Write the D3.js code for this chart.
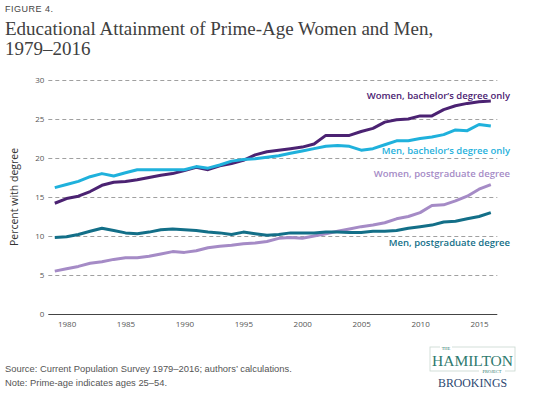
<!DOCTYPE html>
<html>
<head>
<meta charset="utf-8">
<script src="https://cdn.jsdelivr.net/npm/d3@7.9.0/dist/d3.min.js"></script>
<style>
  body { margin: 0; background: #fff; }
  svg { display: block; }
</style>
</head>
<body>
<svg id="chart" width="535" height="396"></svg>
<script>
// years 1979..2016
const years = d3.range(1979, 2017);

// values (percent with degree)
const womenBachelor = [14.2, 14.8, 15.1, 15.7, 16.5, 16.9, 17.0, 17.2, 17.5, 17.8, 18.0, 18.4, 18.8, 18.5, 19.0, 19.3, 19.7, 20.4,
  20.8, 21.0, 21.2, 21.4, 21.8, 22.9, 22.9, 22.9, 23.4, 23.8, 24.6, 24.9, 25.0, 25.4, 25.4, 26.2, 26.7, 27.0, 27.2, 27.3];
const menBachelor = [16.2, 16.6, 17.0, 17.6, 18.0, 17.7, 18.1, 18.5, 18.5, 18.5, 18.5, 18.5, 18.9, 18.7, 19.1, 19.6, 19.8, 19.9,
  20.1, 20.3, 20.6, 20.9, 21.2, 21.5, 21.6, 21.5, 21.0, 21.2, 21.7, 22.2, 22.2, 22.5, 22.7, 23.0, 23.6, 23.5, 24.3, 24.1];
const womenPostgrad = [5.5, 5.8, 6.1, 6.5, 6.7, 7.0, 7.2, 7.2, 7.4, 7.7, 8.0, 7.9, 8.1, 8.5, 8.7, 8.8, 9.0, 9.1,
  9.3, 9.7, 9.8, 9.7, 10.0, 10.3, 10.6, 10.9, 11.2, 11.4, 11.7, 12.2, 12.5, 13.0, 13.9, 14.0, 14.5, 15.1, 16.0, 16.6];
const menPostgrad = [9.8, 9.9, 10.2, 10.6, 11.0, 10.7, 10.4, 10.3, 10.5, 10.8, 10.9, 10.8, 10.7, 10.5, 10.4, 10.2, 10.5, 10.3,
  10.1, 10.2, 10.4, 10.4, 10.4, 10.5, 10.5, 10.45, 10.45, 10.6, 10.6, 10.7, 11.0, 11.2, 11.4, 11.8, 11.9, 12.2, 12.5, 13.0];

const yTicks = [0, 5, 10, 15, 20, 25, 30];
const xTicks = [1980, 1985, 1990, 1995, 2000, 2005, 2010, 2015];

const series = [
  { name: "Women, bachelor\u2019s degree only", values: womenBachelor, color: "#4b2272" },
  { name: "Men, bachelor\u2019s degree only", values: menBachelor, color: "#1fb1dc" },
  { name: "Women, postgraduate degree", values: womenPostgrad, color: "#a58bc6" },
  { name: "Men, postgraduate degree", values: menPostgrad, color: "#136f88" }
];

const svg = d3.select('#chart');

const x = d3.scaleLinear().domain([1978.45, 2016.55]).range([48.3, 497.3]);
const y = d3.scaleLinear().domain([0, 30]).range([314, 80]);

// header
svg.append('text')
  .attr('x', 5).attr('y', 12)
  .attr('font-family', 'Liberation Sans, Arial, sans-serif')
  .attr('font-size', 9).attr('letter-spacing', 0.5)
  .attr('fill', '#444')
  .text('FIGURE 4.');

const title = svg.append('text')
  .attr('font-family', 'Liberation Serif, Times New Roman, serif')
  .attr('font-size', 19).attr('fill', '#404040');
title.append('tspan').attr('x', 5).attr('y', 35).text('Educational Attainment of Prime-Age Women and Men,');
title.append('tspan').attr('x', 5).attr('y', 55).text('1979\u20132016');

// grid + y axis
const yAxis = svg.append('g')
  .attr('transform', `translate(${x.range()[0]},0)`)
  .call(d3.axisLeft(y).tickValues(yTicks).tickSize(-(x.range()[1] - x.range()[0])).tickPadding(4));
yAxis.select('.domain').remove();
yAxis.selectAll('.tick line')
  .attr('stroke', d => d === 0 ? '#444' : '#888')
  .attr('stroke-width', d => d === 0 ? 1.2 : 0.8)
  .attr('stroke-dasharray', d => d === 0 ? null : '4,3');
yAxis.selectAll('.tick text')
  .attr('font-family', 'Open Sans, sans-serif')
  .attr('font-size', 8).attr('fill', '#555');

// x axis labels
const xAxis = svg.append('g')
  .attr('transform', `translate(0,${y(0)})`)
  .call(d3.axisBottom(x).tickValues(xTicks).tickFormat(d3.format('d')).tickSize(0).tickPadding(7));
xAxis.select('.domain').remove();
xAxis.selectAll('.tick text')
  .attr('font-family', 'Open Sans, sans-serif')
  .attr('font-size', 8).attr('fill', '#555');

// y title
svg.append('text')
  .attr('transform', 'translate(18,197) rotate(-90)')
  .attr('text-anchor', 'middle')
  .attr('font-family', 'Open Sans, sans-serif')
  .attr('font-size', 10.5).attr('fill', '#333')
  .text('Percent with degree');

// lines
const line = d3.line()
  .x((d, i) => x(years[i]))
  .y(d => y(d));

series.forEach(s => {
  svg.append('path')
    .datum(s.values)
    .attr('d', line)
    .attr('fill', 'none')
    .attr('stroke', s.color)
    .attr('stroke-width', 3)
    .attr('stroke-linejoin', 'round');
});

// series labels
const labelY = [96, 151, 174, 243];
series.forEach((s, i) => {
  svg.append('text')
    .attr('x', 510).attr('y', labelY[i])
    .attr('dy', '0.35em')
    .attr('text-anchor', 'end')
    .attr('font-family', 'Open Sans, sans-serif')
    .attr('font-weight', 600)
    .attr('font-size', 9.5)
    .attr('fill', s.color)
    .text(s.name);
});

// footer
const foot = svg.append('text')
  .attr('font-family', 'Liberation Sans, Arial, sans-serif')
  .attr('font-size', 9.4).attr('fill', '#555');
foot.append('tspan').attr('x', 5).attr('y', 372).text('Source: Current Population Survey 1979\u20132016; authors\u2019 calculations.');
foot.append('tspan').attr('x', 5).attr('y', 386).text('Note: Prime-age indicates ages 25\u201354.');

// logo
const logo = svg.append('g');
logo.append('rect')
  .attr('x', 430).attr('y', 347).attr('width', 85).attr('height', 24)
  .attr('fill', 'none').attr('stroke', '#c9d8cf').attr('stroke-width', 0.8);
logo.append('rect').attr('x', 440).attr('y', 345).attr('width', 12).attr('height', 4).attr('fill', '#fff');
logo.append('rect').attr('x', 479).attr('y', 369).attr('width', 26).attr('height', 4).attr('fill', '#fff');
logo.append('text')
  .attr('x', 446).attr('y', 349.5).attr('text-anchor', 'middle')
  .attr('font-family', 'Liberation Serif, serif').attr('font-size', 4.5)
  .attr('fill', '#2f7a6e').text('THE');
logo.append('text')
  .attr('x', 472.5).attr('y', 365.5).attr('text-anchor', 'middle')
  .attr('font-family', 'Liberation Serif, serif').attr('font-size', 15)
  .attr('textLength', 81).attr('lengthAdjust', 'spacingAndGlyphs')
  .attr('fill', '#2f7a6e').text('HAMILTON');
logo.append('text')
  .attr('x', 492).attr('y', 372.5).attr('text-anchor', 'middle')
  .attr('font-family', 'Liberation Serif, serif').attr('font-size', 4.5)
  .attr('fill', '#2f7a6e').text('PROJECT');
logo.append('text')
  .attr('x', 472.5).attr('y', 387).attr('text-anchor', 'middle')
  .attr('font-family', 'Liberation Serif, serif').attr('font-size', 11.5)
  .attr('textLength', 69).attr('lengthAdjust', 'spacingAndGlyphs')
  .attr('fill', '#2c4770').text('BROOKINGS');
</script>
</body>
</html>
